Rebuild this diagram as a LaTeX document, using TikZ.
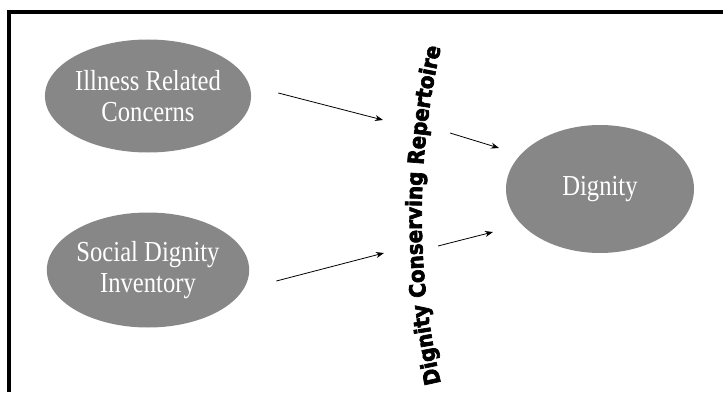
\documentclass[tikz,border=0pt]{standalone}
\usepackage{fontspec}
\setmainfont{Liberation Serif}
\newfontfamily\labelfont[FakeStretch=0.85]{Liberation Serif}
\newfontfamily\repfont[UprightFont={* Bold}, FakeBold=3, FakeStretch=0.9]{DejaVu Sans}
\usetikzlibrary{positioning, arrows.meta, shapes.geometric, decorations.text}

\begin{document}
\begin{tikzpicture}[x=1pt, y=1pt,
  concept/.style={ellipse, fill=black!47, inner sep=0pt, align=center,
    text=white, font=\labelfont\fontsize{29}{31}\selectfont},
  link/.style={line width=0.8pt, -{Stealth[length=8pt, width=6pt]}}]
  \useasboundingbox (0,0) rectangle (723,392);
  % frame, only left and top sides show
  \draw[line width=4pt] (8.7,0) -- (8.7,380) -- (723,380);

  \node[concept, minimum width=174pt, minimum height=113pt] (ill) at (148,296) {Illness Related\\Concerns};
  \node[concept, minimum width=174pt, minimum height=115pt] (sdi) at (148,122) {Social Dignity\\Inventory};
  \node[concept, minimum width=188pt, minimum height=128pt] (dig) at (600,203) {Dignity};

  % curved repertoire label
  \path[decorate, decoration={text along path, text align=center,
      text={|\repfont\fontsize{22}{26}\selectfont|Dignity Conserving Repertoire}}]
    (442,4) arc[start angle=193.4, end angle=166.6, radius=745pt];

  \coordinate (ill-out) at ([xshift=27pt, yshift=3pt]ill.east);
  \coordinate (sdi-out) at ([xshift=27pt, yshift=-11pt]sdi.east);
  \coordinate (rep-in1) at (383,272);
  \coordinate (rep-in2) at (384,139);
  \coordinate (rep-out1) at (450,259);
  \coordinate (rep-out2) at (438,146);
  \coordinate (dig-in1) at (499,244);
  \coordinate (dig-in2) at (493,160);

  \draw[link] (ill-out) -- (rep-in1);
  \draw[link] (sdi-out) -- (rep-in2);
  \draw[link] (rep-out1) -- (dig-in1);
  \draw[link] (rep-out2) -- (dig-in2);
\end{tikzpicture}
\end{document}
